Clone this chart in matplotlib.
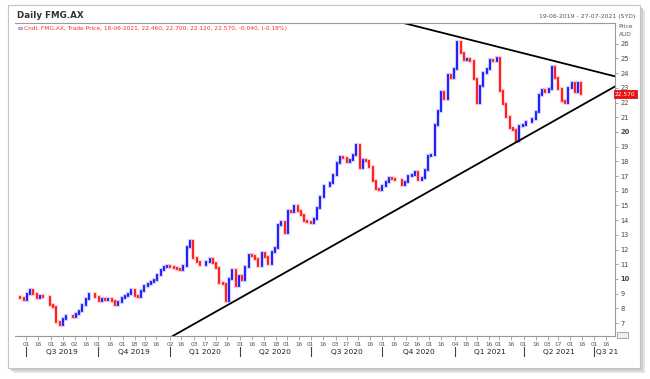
"""Daily FMG.AX candles with converging trend lines."""

import matplotlib

matplotlib.use("Agg")
import matplotlib.pyplot as plt
from matplotlib.lines import Line2D
from matplotlib.patches import Rectangle
import numpy as np
import pandas as pd

W, H = 650, 379

# closing price of each 3-trading-day bar, 24-06-2019 .. 18-06-2021
closes = [
    8.68, 8.56, 9.00, 9.25, 8.95, 8.72, 8.85, 8.75, 8.79, 8.22,
    8.07, 7.10, 6.90, 7.30, 7.50, 7.50, 7.40, 7.62, 7.85, 8.20,
    8.65, 8.95, 9.00, 8.80, 8.50, 8.65, 8.58, 8.65, 8.50, 8.25,
    8.40, 8.70, 8.82, 9.00, 9.25, 8.85, 8.80, 9.15, 9.50, 9.65,
    9.78, 9.95, 10.25, 10.60, 10.82, 10.85, 10.78, 10.72, 10.68, 10.60,
    10.85, 12.20, 12.60, 11.45, 11.15, 10.95, 10.95, 11.15, 11.35, 11.10,
    10.75, 9.75, 9.65, 8.50, 10.00, 10.60, 9.55, 10.20, 9.90, 10.80,
    11.65, 11.55, 11.35, 10.90, 11.75, 11.50, 11.00, 11.80, 12.10, 13.70,
    13.85, 13.15, 14.60, 14.57, 14.95, 14.65, 14.35, 13.95, 13.88, 13.80,
    14.10, 14.85, 15.55, 16.30, 16.35, 16.55, 17.10, 17.90, 18.27, 18.20,
    17.95, 18.10, 18.45, 19.10, 17.55, 18.10, 18.00, 17.63, 16.65, 16.10,
    16.05, 16.30, 16.60, 16.85, 16.80, 16.70, 16.70, 16.40, 16.60, 17.00,
    17.10, 17.30, 16.75, 16.90, 17.40, 18.35, 18.40, 20.50, 21.45, 22.70,
    22.25, 23.90, 23.70, 24.30, 26.10, 25.40, 24.90, 24.95, 24.85, 23.60,
    22.00, 23.15, 24.00, 24.30, 24.88, 24.80, 25.00, 22.80, 21.90, 21.00,
    20.25, 20.13, 19.35, 20.40, 20.50, 20.70, 20.65, 20.90, 21.35, 22.50,
    22.85, 22.73, 22.95, 24.45, 23.70, 22.95, 22.10, 21.95, 23.00, 23.30,
    22.70, 23.30, 22.60, 22.57,
]
first_open = 8.75
last_close = 22.570

tick_dates = [
    "2019-07-01", "2019-07-16", "2019-08-01", "2019-08-16", "2019-09-02", "2019-09-16",
    "2019-10-01", "2019-10-16", "2019-11-01", "2019-11-18", "2019-12-02", "2019-12-16",
    "2020-01-02", "2020-01-16", "2020-02-03", "2020-02-17", "2020-03-02", "2020-03-16",
    "2020-04-01", "2020-04-16", "2020-05-01", "2020-05-18", "2020-06-01", "2020-06-16",
    "2020-07-01", "2020-07-16", "2020-08-03", "2020-08-17", "2020-09-01", "2020-09-16",
    "2020-10-01", "2020-10-16", "2020-11-02", "2020-11-16", "2020-12-01", "2020-12-16",
    "2021-01-04", "2021-01-18", "2021-02-01", "2021-02-16", "2021-03-01", "2021-03-16",
    "2021-04-01", "2021-04-16", "2021-05-03", "2021-05-17", "2021-06-01", "2021-06-16",
    "2021-07-01", "2021-07-16",
]
quarter_starts = [
    "2019-07-01", "2019-10-01", "2020-01-02", "2020-04-01", "2020-07-01",
    "2020-10-01", "2021-01-04", "2021-04-01", "2021-07-01",
]
quarter_labels = [
    "Q3 2019", "Q4 2019", "Q1 2020", "Q2 2020", "Q3 2020",
    "Q4 2020", "Q1 2021", "Q2 2021", "Q3 21",
]
price_ticks = list(range(7, 27))

# trend lines: two anchor points each (date, price)
lower_dates = ["2020-03-16", "2021-03-25"]
lower_prices = [8.2, 19.38]
upper_dates = ["2020-10-29", "2021-07-27"]
upper_prices = [27.4, 23.8]

BLUE = "#1010ff"
RED = "#ff1010"

# trading-day calendar used as x axis
bdays = pd.bdate_range("2019-06-19", "2021-07-30")


def pos(dates):
    return bdays.get_indexer(pd.to_datetime(dates))


def px(x, y):
    return x / W, 1 - y / H


fig = plt.figure(figsize=(W / 100, H / 100), dpi=100)

# outer panel with drop shadow (behind the axes)
for off, col, z in [(5, "#e4e4e4", -3), (3, "#cfcfcf", -2)]:
    fig.patches.append(Rectangle(px(8 + off, 368 + off), 632 / W, 363 / H,
                                 transform=fig.transFigure, fc=col, ec="none", zorder=z))
fig.patches.append(Rectangle(px(8, 368), 632 / W, 363 / H, transform=fig.transFigure,
                             fc="white", ec="#c4c4c4", lw=0.8, zorder=-1))

ax = fig.add_axes([15 / W, 1 - 336 / H, 600 / W, 313 / H])
ax.set_facecolor("none")
ax.set_zorder(2)

bar_x = pos(bdays[3::3][: len(closes)])
c = np.array(closes)
o = np.array([first_open] + closes[:-1])
cols = [BLUE if cc >= oo else RED for oo, cc in zip(o, c)]
lo, hi = np.minimum(o, c), np.maximum(o, c)
ax.vlines(bar_x, lo, hi, colors=cols, lw=3.0, alpha=0.18, capstyle="projecting")
ax.vlines(bar_x, lo, hi, colors=cols, lw=1.3, capstyle="projecting")

# trend lines
for d, p in [(lower_dates, lower_prices), (upper_dates, upper_prices)]:
    xs = pos(d)
    ax.axline((xs[0], p[0]), (xs[1], p[1]), color="black", lw=1.3)

ax.set_xlim(-2, 550)
ax.set_ylim(6.12, 27.41)

for side in ["top", "right", "bottom"]:
    ax.spines[side].set_color("#9a9a9a")
    ax.spines[side].set_linewidth(0.8)
ax.spines["left"].set_visible(False)

ax.yaxis.tick_right()
ax.set_yticks(price_ticks)
ax.set_yticklabels([str(t) for t in price_ticks])
for lbl in ax.get_yticklabels():
    if lbl.get_text() in ("10", "20"):
        lbl.set_fontweight("bold")
ax.tick_params(axis="y", length=2, pad=2, labelsize=4.8, colors="#9a9a9a",
               labelcolor="#444444", width=0.6)

ax.set_xticks(pos(tick_dates))
ax.set_xticklabels([d[8:10] for d in tick_dates])
ax.tick_params(axis="x", length=3, pad=1.5, labelsize=4.2, colors="#9a9a9a",
               labelcolor="#555555", width=0.6)

# quarter labels and separators
qx = list(pos(quarter_starts))
tr = ax.get_xaxis_transform()
for i, (x0, lab) in enumerate(zip(qx, quarter_labels)):
    ax.add_line(Line2D([x0, x0], [-0.036, -0.064], transform=tr, color="#444444",
                       lw=0.8, clip_on=False))
    if i + 1 < len(qx):
        ax.text((x0 + qx[i + 1]) / 2, -0.05, lab, transform=tr, ha="center",
                va="center", fontsize=5.4, color="#222222")
    else:
        ax.text(x0 + 1.5, -0.05, lab, transform=tr, ha="left", va="center",
                fontsize=5.4, color="#222222")

# last price flag
ax.text(1.0, last_close, f"{last_close:.3f}", transform=ax.get_yaxis_transform(),
        ha="left", va="center", fontsize=4.2, color="white", clip_on=False,
        bbox=dict(boxstyle="square,pad=0.25", fc="#ee1111", ec="#cc0000", lw=0.5))

# header texts
fig.text(*px(17, 16), "Daily FMG.AX", fontsize=6.3, fontweight="bold", color="#333333",
         va="center", ha="left")
fig.text(*px(635, 16.5), "19-06-2019 - 27-07-2021 (SYD)", fontsize=4.4, color="#555555",
         va="center", ha="right")
fig.text(*px(23.5, 28.5),
         "Cndl, FMG.AX, Trade Price, 18-06-2021, 22.460, 22.700, 22.120, 22.570, -0.040, (-0.18%)",
         fontsize=4.2, color="#ff2a2a", va="center", ha="left")
fig.patches.append(plt.Circle(px(20.5, 28.5), 2.2 / W, transform=fig.transFigure,
                              fc="#d8d8e8", ec="#666688", lw=0.4))
fig.text(*px(618.5, 27), "Price", fontsize=4.2, color="#555555", va="center", ha="left")
fig.text(*px(618.5, 35), "AUD", fontsize=4.2, color="#555555", va="center", ha="left")
fig.patches.append(Rectangle(px(617, 338), 11 / W, 6 / H, transform=fig.transFigure,
                             fc="#eeeeee", ec="#888888", lw=0.5))

fig.savefig("out.png", dpi=100)
plt.close(fig)
